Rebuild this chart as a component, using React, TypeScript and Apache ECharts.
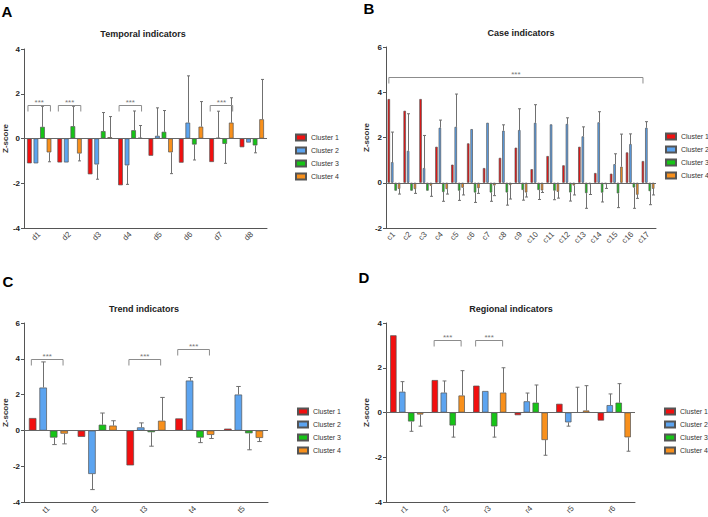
import React, { useEffect, useRef } from "react";
import * as echarts from "echarts";

// ---------- shared ----------
const clusterNames = ["Cluster 1", "Cluster 2", "Cluster 3", "Cluster 4"];
const clusterColors = ["#f20f0f", "#5ca4f0", "#16c416", "#f8901c"];

// ---------- A: Temporal indicators ----------
const temporalCats = ["d1", "d2", "d3", "d4", "d5", "d6", "d7", "d8"];
const temporalC1 = [-1.11, -1.07, -1.6, -2.09, -0.77, -1.08, -1.05, -0.39];
const temporalC2 = [-1.11, -1.07, -1.16, -1.2, 0.12, 0.71, 0.03, -0.18];
const temporalC3 = [0.52, 0.55, 0.33, 0.37, 0.3, -0.27, -0.24, -0.31];
const temporalC4 = [-0.62, -0.67, 0.06, 0.03, -0.62, 0.53, 0.71, 0.86];
const temporalE1 = [null, null, null, null, null, null, null, null];
const temporalE2 = [null, null, -1.82, -2.05, 1.37, 2.8, 1.22, null];
const temporalE3 = [1.44, 1.44, 1.16, 1.23, 1.25, -0.96, -1.11, -0.64];
const temporalE4 = [-1.04, -1.0, 0.98, 0.58, -1.57, 1.65, 1.82, 2.64];
const temporalBrackets = [[0, 0, 1.48], [1, 1, 1.48], [3, 3, 1.48], [6, 6, 1.48]];

// ---------- B: Case indicators ----------
const caseCats = ["c1", "c2", "c3", "c4", "c5", "c6", "c7", "c8", "c9", "c10", "c11", "c12", "c13", "c14", "c15", "c16", "c17"];
const caseC1 = [3.7, 3.18, 3.7, 1.59, 0.8, 1.74, 0.65, 1.1, 1.55, 0.6, 1.18, 0.77, 1.59, 0.43, 0.4, 1.34, 0.96];
const caseC2 = [0.91, 1.41, 0.65, 2.43, 2.47, 2.37, 2.65, 2.3, 2.33, 2.65, 2.58, 2.6, 2.05, 2.67, 0.82, 1.71, 2.43];
const caseC3 = [-0.35, -0.35, -0.35, -0.41, -0.35, -0.43, -0.43, -0.43, -0.32, -0.32, -0.35, -0.43, -0.46, -0.44, -0.47, -0.21, -0.37];
const caseC4 = [-0.27, -0.28, -0.13, -0.28, -0.22, -0.24, -0.12, -0.1, -0.43, -0.34, -0.4, -0.12, -0.06, -0.06, 0.71, -0.53, -0.27];
const caseE1 = [null, null, null, null, null, null, null, null, null, null, null, null, null, null, null, null, null];
const caseE2 = [2.24, 3.05, 2.09, 2.77, 3.92, null, null, 2.56, 3.27, 3.45, null, 2.87, 2.47, 3.14, 1.28, 2.16, 2.7];
const caseE3 = [null, null, null, -0.82, -0.78, -0.87, -0.82, -0.99, -0.77, -0.74, -0.75, -0.81, -1.13, -0.85, -1.1, -1.13, -0.97];
const caseE4 = [-0.5, -0.47, -0.6, -0.5, -0.54, -0.47, -0.57, -0.72, -0.63, -0.43, -0.68, -0.54, -0.52, -0.25, 2.15, -0.69, -0.54];
const caseBrackets = [[0, 16, 4.67]];

// ---------- C: Trend indicators ----------
const trendCats = ["t1", "t2", "t3", "t4", "t5"];
const trendC1 = [0.7, -0.35, -1.94, 0.68, 0.11];
const trendC2 = [2.4, -2.42, 0.18, 2.79, 2.01];
const trendC3 = [-0.39, 0.33, -0.09, -0.39, -0.15];
const trendC4 = [-0.17, 0.28, 0.55, -0.24, -0.41];
const trendE1 = [null, null, null, null, null];
const trendE2 = [3.83, -3.29, 0.43, 2.96, 2.46];
const trendE3 = [-0.78, 0.98, -0.87, -0.67, -1.07];
const trendE4 = [-0.74, 0.55, 1.85, -0.44, -0.61];
const trendBrackets = [[0, 0, 3.97], [2, 2, 3.97], [3, 3, 4.57]];

// ---------- D: Regional indicators ----------
const regionCats = ["r1", "r2", "r3", "r4", "r5", "r6"];
const regionC1 = [3.45, 1.45, 1.2, -0.12, 0.39, -0.36];
const regionC2 = [0.93, 0.89, 0.96, 0.5, -0.44, 0.33];
const regionC3 = [-0.4, -0.58, -0.62, 0.44, 0.0, 0.44];
const regionC4 = [-0.09, 0.76, 0.89, -1.23, 0.09, -1.11];
const regionE1 = [null, null, null, null, null, null];
const regionE2 = [1.38, 1.41, null, 0.87, -0.61, 0.83];
const regionE3 = [-0.84, -1.1, -1.1, 1.23, 1.13, 1.29];
const regionE4 = [-0.61, 1.87, 2.0, -1.91, 1.2, -1.73];
const regionBrackets = [[1, 1, 3.23], [2, 2, 3.23]];

const FONT = 'Arial, "Liberation Sans", sans-serif';

const panels = [
  {
    letter: "A", title: "Temporal indicators", cats: temporalCats,
    values: [temporalC1, temporalC2, temporalC3, temporalC4],
    errors: [temporalE1, temporalE2, temporalE3, temporalE4],
    brackets: temporalBrackets,
    grid: { left: 20, top: 49, width: 247, height: 179 }, yMin: -4, yMax: 4,
    legend: { left: 295, top: 132 }, titlePos: [143, 34], letterPos: [7, 11], bOff: [-0.37, 0.37],
  },
  {
    letter: "B", title: "Case indicators", cats: caseCats,
    values: [caseC1, caseC2, caseC3, caseC4],
    errors: [caseE1, caseE2, caseE3, caseE4],
    brackets: caseBrackets,
    grid: { left: 386, top: 47, width: 270, height: 181 }, yMin: -2, yMax: 6,
    legend: { left: 665, top: 131 }, titlePos: [521, 33], letterPos: [369, 8], bOff: [-0.32, -0.32],
  },
  {
    letter: "C", title: "Trend indicators", cats: trendCats,
    values: [trendC1, trendC2, trendC3, trendC4],
    errors: [trendE1, trendE2, trendE3, trendE4],
    brackets: trendBrackets,
    grid: { left: 21, top: 323, width: 247, height: 180 }, yMin: -4, yMax: 6,
    legend: { left: 297, top: 406 }, titlePos: [144, 309], letterPos: [8, 281], bOff: [-0.35, 0.3],
  },
  {
    letter: "D", title: "Regional indicators", cats: regionCats,
    values: [regionC1, regionC2, regionC3, regionC4],
    errors: [regionE1, regionE2, regionE3, regionE4],
    brackets: regionBrackets,
    grid: { left: 386, top: 323, width: 249, height: 180 }, yMin: -4, yMax: 4,
    legend: { left: 664, top: 406 }, titlePos: [511, 309], letterPos: [364, 277], bOff: [-0.34, 0.31],
  },
];

function errorRender(params: any, api: any) {
  const cat = api.value(0);
  const v = api.value(1);
  const e = api.value(2);
  const cl = api.value(3);
  const bw = api.size([1, 0])[0];
  const w = (bw * 0.8) / 5.2;
  const off = -0.4 * bw + w / 2 + cl * 1.4 * w;
  const p0 = api.coord([cat, v]);
  const p1 = api.coord([cat, e]);
  const x = Math.round(p0[0] + off) + 0.5;
  const cap = Math.max(1.5, w * 0.3);
  return {
    type: "group",
    children: [
      { type: "line", shape: { x1: x, y1: p0[1], x2: x, y2: p1[1] }, style: { stroke: "#707070", lineWidth: 1 } },
      { type: "line", shape: { x1: x - cap, y1: p1[1], x2: x + cap, y2: p1[1] }, style: { stroke: "#707070", lineWidth: 1 } },
    ],
  };
}

function makeBracketRender(offs: number[]) {
  return (params: any, api: any) => {
    const s = api.value(0);
    const e = api.value(1);
    const lv = api.value(2);
    const bw = api.size([1, 0])[0];
    const ps = api.coord([s, lv]);
    const pe = api.coord([e, lv]);
    const x1 = ps[0] + offs[0] * bw;
    const x2 = pe[0] + offs[1] * bw;
    const y = Math.round(ps[1]) + 0.5;
    return {
      type: "group",
      children: [
        {
          type: "polyline",
          shape: { points: [[x1, y + 6], [x1, y], [x2, y], [x2, y + 6]] },
          style: { stroke: "#8c8c8c", fill: null, lineWidth: 1 },
        },
        {
          type: "text",
          x: (x1 + x2) / 2,
          y: y - 3,
          style: { text: "***", fill: "#777", font: `8px ${FONT}`, textAlign: "center", textVerticalAlign: "middle" },
        },
      ],
    };
  };
}

function buildOption() {
  const grid: any[] = [];
  const xAxis: any[] = [];
  const yAxis: any[] = [];
  const legend: any[] = [];
  const series: any[] = [];
  const graphic: any[] = [];

  panels.forEach((p, pi) => {
    grid.push({ ...p.grid, containLabel: false });
    xAxis.push({
      type: "category",
      gridIndex: pi,
      data: p.cats,
      axisLine: { onZero: false, lineStyle: { color: "#555", width: 1 } },
      axisTick: { alignWithLabel: true, length: 3, lineStyle: { color: "#555" } },
      axisLabel: { rotate: 45, interval: 0, fontSize: 8, color: "#444", margin: 5, fontFamily: FONT },
    });
    yAxis.push({
      type: "value",
      gridIndex: pi,
      min: p.yMin,
      max: p.yMax,
      interval: 2,
      name: "Z-score",
      nameLocation: "middle",
      nameGap: 11,
      nameTextStyle: { fontSize: 8, color: "#333", fontWeight: "bold", fontFamily: FONT },
      axisLine: { show: true, lineStyle: { color: "#555", width: 1 } },
      axisTick: { show: true, length: 3, lineStyle: { color: "#555" } },
      axisLabel: { fontSize: 8, color: "#222", fontWeight: "bold", margin: 4, fontFamily: FONT },
      splitLine: { show: false },
    });
    legend.push({
      orient: "vertical",
      left: p.legend.left,
      top: p.legend.top,
      padding: 0,
      itemWidth: 10,
      itemHeight: 6,
      itemGap: 2,
      icon: "rect",
      data: clusterNames,
      textStyle: { fontSize: 7, color: "#333", lineHeight: 11, fontFamily: FONT },
      selectedMode: false,
    });
    p.values.forEach((vals, ci) => {
      const s: any = {
        type: "bar",
        name: clusterNames[ci],
        xAxisIndex: pi,
        yAxisIndex: pi,
        data: vals,
        barGap: "40%",
        barCategoryGap: "20%",
        itemStyle: { color: clusterColors[ci], borderColor: "#555", borderWidth: 0.7 },
        emphasis: { disabled: true },
      };
      if (ci === 0) {
        s.markLine = {
          silent: true,
          symbol: "none",
          label: { show: false },
          lineStyle: { color: "#666", width: 1, type: "solid" },
          data: [{ yAxis: 0 }],
        };
      }
      series.push(s);
    });
    const errData: any[] = [];
    p.errors.forEach((errs, ci) => {
      errs.forEach((e, k) => {
        if (e !== null && e !== undefined) errData.push([k, p.values[ci][k], e, ci]);
      });
    });
    series.push({
      type: "custom",
      name: "err" + pi,
      xAxisIndex: pi,
      yAxisIndex: pi,
      renderItem: errorRender,
      encode: { x: 0, y: [1, 2] },
      data: errData,
      silent: true,
      z: 3,
    });
    series.push({
      type: "custom",
      name: "sig" + pi,
      xAxisIndex: pi,
      yAxisIndex: pi,
      renderItem: makeBracketRender(p.bOff),
      encode: { x: [0, 1], y: 2 },
      data: p.brackets,
      silent: true,
      z: 4,
    });
    graphic.push({
      type: "text",
      x: p.titlePos[0],
      y: p.titlePos[1],
      style: { text: p.title, fill: "#222", font: `bold 9px ${FONT}`, textAlign: "center", textVerticalAlign: "middle" },
    });
    graphic.push({
      type: "text",
      x: p.letterPos[0],
      y: p.letterPos[1],
      style: { text: p.letter, fill: "#000", font: `bold 15px ${FONT}`, textAlign: "center", textVerticalAlign: "middle" },
    });
  });

  return {
    animation: false,
    backgroundColor: "#ffffff",
    grid,
    xAxis,
    yAxis,
    legend,
    series,
    graphic,
  };
}

export default function App() {
  const ref = useRef<HTMLDivElement | null>(null);
  useEffect(() => {
    if (!ref.current) return;
    const chart = echarts.init(ref.current, null, { renderer: "svg" });
    chart.setOption(buildOption() as any);
    return () => chart.dispose();
  }, []);
  return (
    <div
      ref={ref}
      style={{ position: "absolute", left: 0, top: 0, width: 708, height: 517, background: "#fff" }}
    />
  );
}
